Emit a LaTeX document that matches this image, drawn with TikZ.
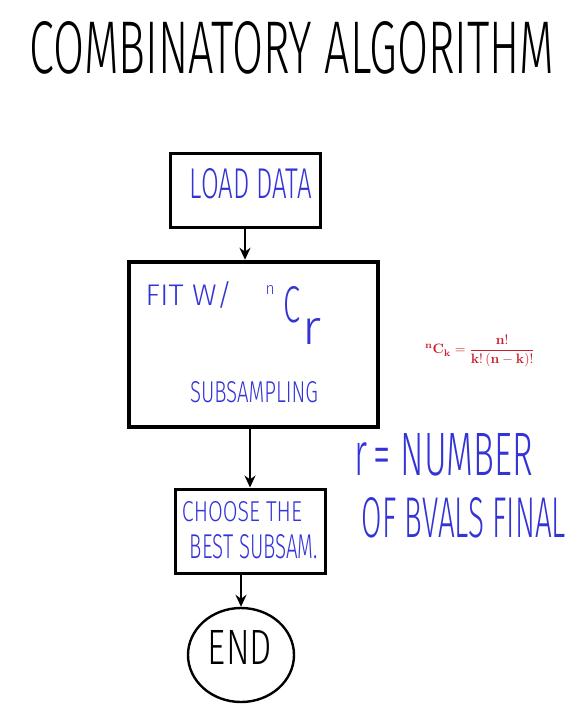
\documentclass[tikz,border=0pt]{standalone}
\usepackage[no-math]{fontspec}
\setmainfont{Liberation Sans}
\newfontfamily\thinfont{Fira Sans Light}
\usetikzlibrary{arrows.meta,shapes.geometric}
\definecolor{pen}{RGB}{52,52,214}
\definecolor{formred}{RGB}{200,30,45}
\newcommand{\fitt}[3]{\resizebox{#1pt}{#2pt}{\thinfont #3}}
\begin{document}
\begin{tikzpicture}[x=1pt,y=-1pt,
  box/.style={draw=black,line width=#1,inner sep=0pt},
  hand/.style={text=pen,inner sep=0pt},
  conn/.style={draw=black,line width=2pt,-{Stealth[length=12pt,width=11pt]}}]
\useasboundingbox (0,0) rectangle (578,726);
% title
\node[inner sep=0pt] (title) at (292,48) {\fitt{525}{52}{COMBINATORY\ ALGORITHM}};
% boxes
\node[box=3pt,minimum width=150pt,minimum height=74pt] (load) at (245,190) {};
\node[box=4.5pt,minimum width=249pt,minimum height=165pt] (fit) at (253.5,344.5) {};
\node[box=3pt,minimum width=150pt,minimum height=84pt] (choose) at (250,531) {};
\node[draw=black,line width=2.4pt,ellipse,minimum width=106pt,minimum height=94pt,inner sep=0pt] (end) at (241,655) {};
% texts
\node[hand] (tload) at (251,184) {\fitt{122}{30}{LOAD\ DATA}};
\node[hand] (tfit) at (189,295) {\fitt{87}{24}{FIT\ W/}};
\node[hand] (tn) at (270,290) {\fitt{9}{9}{n}};
\node[hand] (tC) at (291.5,305) {\fitt{17}{36}{C}};
\node[hand] (tr) at (312,331) {\fitt{19}{26}{r}};
\node[hand] (tsub) at (254,392) {\fitt{128}{21}{SUBSAMPLING}};
\node[hand] (tch1) at (242,512) {\fitt{120}{20}{CHOOSE\ THE}};
\node[hand] (tch2) at (254,547) {\fitt{128}{24}{BEST\ SUBSAM.}};
\node[inner sep=0pt] (tend) at (240,647) {\fitt{64}{34}{END}};
\node[hand] (tnum) at (444,455) {\fitt{178}{42}{r\,=\ NUMBER}};
\node[hand] (tbv) at (464,518) {\fitt{204}{40}{OF\ BVALS\ FINAL}};
% formula
\node[text=formred,inner sep=0pt] (form) at (480,351) {\resizebox{110pt}{!}{$\displaystyle\mathbf{{}^{n}C_{k}=\frac{n!}{k!\,(n-k)!}}$}};
% connectors
\draw[conn] (load.south) -- (load.south |- fit.north);
\coordinate (a2) at (250,429);
\draw[conn] (a2) -- (a2 |- choose.north);
\coordinate (a3) at (241,574);
\draw[conn] (a3) -- (a3 |- end.north);
\end{tikzpicture}
\end{document}
